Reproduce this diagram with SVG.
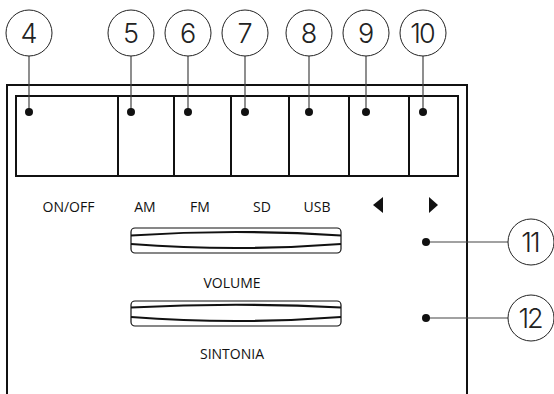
<svg xmlns="http://www.w3.org/2000/svg" width="554" height="394" viewBox="0 0 554 394">
<defs>
<style>
.frame{fill:none;stroke:#111;stroke-width:2}
.btn{fill:none;stroke:#111;stroke-width:2}
.callout{fill:#fff;stroke:#222;stroke-width:1}
.num{font-family:"Inter","Liberation Sans",Arial,sans-serif;font-weight:300;font-size:27px;fill:#222;text-anchor:middle}
.lbl{font-family:"Open Sans","Noto Sans",sans-serif;font-size:14px;fill:#111;text-anchor:middle}
.leader{stroke:#444;stroke-width:1.2;fill:none}
.dot{fill:#111}
.slot{fill:#fff;stroke:#111;stroke-width:1.2}
.groove{fill:none;stroke:#111;stroke-width:2.2}
.tri{fill:#111}
</style>
</defs>
<rect width="554" height="394" fill="#fff"/>
<g id="frame">
<path class="frame" d="M7,394 V85 H467 V394"/>
</g>
<g id="buttons">
<rect class="btn" x="16" y="96" width="442" height="80"/>
<line class="btn" x1="118" y1="96" x2="118" y2="176"/>
<line class="btn" x1="174" y1="96" x2="174" y2="176"/>
<line class="btn" x1="231" y1="96" x2="231" y2="176"/>
<line class="btn" x1="289" y1="96" x2="289" y2="176"/>
<line class="btn" x1="349" y1="96" x2="349" y2="176"/>
<line class="btn" x1="409" y1="96" x2="409" y2="176"/>
</g>
<g id="connectors">
<line class="leader" x1="29" y1="56" x2="29" y2="112"/>
<line class="leader" x1="131" y1="56" x2="131" y2="112"/>
<line class="leader" x1="188" y1="56" x2="188" y2="112"/>
<line class="leader" x1="245" y1="56" x2="245" y2="112"/>
<line class="leader" x1="309" y1="56" x2="309" y2="112"/>
<line class="leader" x1="366" y1="56" x2="366" y2="112"/>
<line class="leader" x1="423" y1="56" x2="423" y2="112"/>
<line class="leader" x1="426" y1="242" x2="509" y2="242"/>
<line class="leader" x1="426" y1="318" x2="509" y2="318"/>
<circle class="dot" cx="29" cy="112" r="4"/>
<circle class="dot" cx="131" cy="112" r="4"/>
<circle class="dot" cx="188" cy="112" r="4"/>
<circle class="dot" cx="245" cy="112" r="4"/>
<circle class="dot" cx="309" cy="112" r="4"/>
<circle class="dot" cx="366" cy="112" r="4"/>
<circle class="dot" cx="423" cy="112" r="4"/>
<circle class="dot" cx="426" cy="242" r="4"/>
<circle class="dot" cx="426" cy="318" r="4"/>
</g>
<g id="c4"><circle class="callout" cx="29" cy="33" r="23"/><text class="num" x="29" y="43">4</text></g>
<g id="c5"><circle class="callout" cx="131" cy="33" r="23"/><text class="num" x="131" y="43">5</text></g>
<g id="c6"><circle class="callout" cx="188" cy="33" r="23"/><text class="num" x="188" y="43">6</text></g>
<g id="c7"><circle class="callout" cx="245" cy="33" r="23"/><text class="num" x="245" y="43">7</text></g>
<g id="c8"><circle class="callout" cx="309" cy="33" r="23"/><text class="num" x="309" y="43">8</text></g>
<g id="c9"><circle class="callout" cx="366" cy="33" r="23"/><text class="num" x="366" y="43">9</text></g>
<g id="c10"><circle class="callout" cx="423" cy="33" r="23"/><text class="num" x="422" y="43" letter-spacing="-2">10</text></g>
<g id="c11"><circle class="callout" cx="531" cy="242" r="23"/><text class="num" x="530" y="252" letter-spacing="-2">11</text></g>
<g id="c12"><circle class="callout" cx="531" cy="318" r="23"/><text class="num" x="530" y="328" letter-spacing="-2">12</text></g>
<g id="labels">
<text class="lbl" x="68.5" y="212">ON/OFF</text>
<text class="lbl" x="145" y="212">AM</text>
<text class="lbl" x="200" y="212">FM</text>
<text class="lbl" x="262" y="212">SD</text>
<text class="lbl" x="317" y="212">USB</text>
<polygon class="tri" points="373,205 383,197 383,213"/>
<polygon class="tri" points="438,205 429,197 429,213"/>
</g>
<g id="volume">
<rect class="slot" x="131" y="228" width="210" height="25" rx="4"/>
<path class="groove" d="M131,235.5 Q236,228.5 341,235.5"/>
<path class="groove" d="M131,244 Q236,252 341,244"/>
<text class="lbl" x="232" y="288">VOLUME</text>
</g>
<g id="sintonia">
<rect class="slot" x="131" y="301" width="210" height="25" rx="4"/>
<path class="groove" d="M131,307.5 Q236,302 341,307.5"/>
<path class="groove" d="M131,317 Q236,325 341,317"/>
<text class="lbl" x="232" y="359">SINTONIA</text>
</g>
</svg>
